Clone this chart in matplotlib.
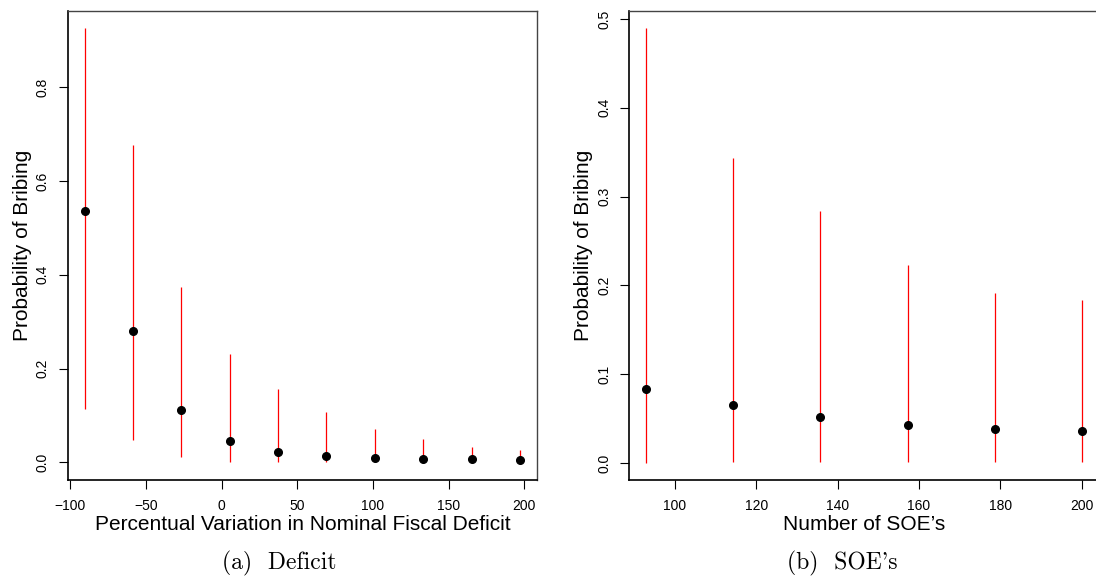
import matplotlib
matplotlib.use("Agg")
import matplotlib.pyplot as plt
import numpy as np
from matplotlib.ticker import FormatStrFormatter

# (a) Deficit
deficit_x = [-90.3, -58.7, -26.8, 5.3, 37.2, 69.3, 101.2, 133.3, 165.2, 197.3]
deficit_p = [0.536, 0.281, 0.111, 0.045, 0.022, 0.013, 0.009, 0.007, 0.006, 0.005]
deficit_lo = [0.114, 0.048, 0.012, 0.001, 0.0, 0.0, 0.0, 0.0, 0.0, 0.0]
deficit_hi = [0.926, 0.677, 0.373, 0.231, 0.156, 0.108, 0.071, 0.049, 0.033, 0.026]

# (b) SOE's
soe_x = [93.0, 114.4, 135.8, 157.2, 178.6, 200.0]
soe_p = [0.083, 0.065, 0.052, 0.043, 0.038, 0.036]
soe_lo = [0.0003, 0.001, 0.001, 0.001, 0.001, 0.001]
soe_hi = [0.4895, 0.344, 0.284, 0.223, 0.192, 0.1835]

plt.rcParams["font.family"] = ["Liberation Sans", "DejaVu Sans"]

W, H = 1096, 576
fig = plt.figure(figsize=(W / 100, H / 100), dpi=100)


def px_axes(left, right, top, bottom):
    return fig.add_axes([left / W, 1 - bottom / H, (right - left) / W, (bottom - top) / H])


def panel(ax, x, p, lo, hi, xlim, ylim, xticks, yticks, xlabel, ylab_x, xlab_x=0.5):
    ax.vlines(x, lo, hi, color="#ff0000", linewidth=0.9)
    ax.plot(x, p, "o", color="black", markersize=5.5)
    ax.set_xlim(*xlim)
    ax.set_ylim(*ylim)
    ax.set_xticks(xticks)
    ax.set_yticks(yticks)
    ax.yaxis.set_major_formatter(FormatStrFormatter("%.1f"))
    ax.tick_params(axis="both", direction="out", length=6.5, width=0.8, labelsize=10)
    ax.tick_params(axis="x", pad=7.5)
    ax.tick_params(axis="y", pad=6.5)
    for lab in ax.get_yticklabels():
        lab.set_rotation(90)
        lab.set_va("center")
    for side in ("bottom", "left"):
        ax.spines[side].set_linewidth(1.2)
    for side in ("top", "right"):
        ax.spines[side].set_linewidth(1.0)
        ax.spines[side].set_color("#444444")
    ax.set_xlabel(xlabel, fontsize=15)
    ax.xaxis.label.set_va("baseline")
    ax.xaxis.set_label_coords(xlab_x, -50 / 469)
    ax.set_ylabel("Probability of Bribing", fontsize=15)
    ax.yaxis.label.set_va("center")
    ax.yaxis.set_label_coords(ylab_x, 0.5)


ax1 = px_axes(67.5, 537.2, 11, 480)
panel(ax1, deficit_x, deficit_p, deficit_lo, deficit_hi,
      (-101.85, 208.6), (-0.0378, 0.963),
      np.arange(-100, 201, 50), np.arange(0, 0.81, 0.2),
      "Percentual Variation in Nominal Fiscal Deficit", -0.0954)

ax2 = px_axes(629.4, 1099, 11, 480)
panel(ax2, soe_x, soe_p, soe_lo, soe_hi,
      (88.8, 204.3), (-0.019, 0.509),
      np.arange(100, 201, 20), np.arange(0, 0.51, 0.1),
      "Number of SOE\u2019s", -0.0988)

# cmr10 puts the closing quote on the ASCII apostrophe slot
fig.text(278.8 / W, 6.7 / H, "(a)  Deficit", family=["cmr10", "DejaVu Serif"],
         fontsize=17, ha="center", va="baseline")
fig.text(842 / W, 6.7 / H, "(b)  SOE's", family=["cmr10", "DejaVu Serif"],
         fontsize=17, ha="center", va="baseline")

fig.savefig("out.png", dpi=100)
